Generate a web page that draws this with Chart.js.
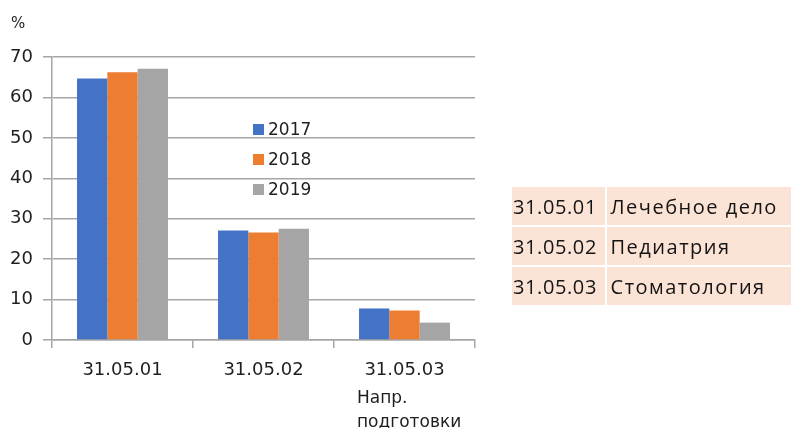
<!DOCTYPE html>
<html><head><meta charset="utf-8">
<script src="https://cdn.jsdelivr.net/npm/chart.js@4"></script>
<style>
html,body{margin:0;padding:0;background:#fff;}
#wrap{position:relative;width:791px;height:428px;overflow:hidden;}
#c{position:absolute;left:0;top:0;}
.txt{position:absolute;font-family:"DejaVu Sans",Verdana,sans-serif;color:#1f1f1f;white-space:nowrap;}
#tbl{position:absolute;left:512px;top:187px;border-collapse:collapse;font-family:"Open Sans","DejaVu Sans",sans-serif;font-size:20px;letter-spacing:0.6px;color:#141414;}
#tbl td{background:#fbe3d6;height:38px;padding:0 0 0 1px;border:2px solid #fff;border-left:none;border-top:none;}
#tbl tr:last-child td{border-bottom:none;}
#tbl td.code{width:92px;}
#tbl td.name{width:182px;border-right:none;padding-left:4px;letter-spacing:1.5px;}
</style></head>
<body><div id="wrap">
<canvas id="c" width="791" height="428"></canvas>
<div class="txt" style="left:11px;top:14px;font-size:15px;">%</div>
<div class="txt" style="left:357px;top:385px;font-size:17px;line-height:24px;">Напр.<br>подготовки</div>
<table id="tbl"></table>
</div>
<script>
const categories = ['31.05.01', '31.05.02', '31.05.03'];
const seriesLabels = ['2017', '2018', '2019'];
const values2017 = [64.7, 27.1, 7.8];
const values2018 = [66.2, 26.6, 7.3];
const values2019 = [67.1, 27.5, 4.3];
const yTicks = [0, 10, 20, 30, 40, 50, 60, 70];
const tableCodes = ['31.05.01', '31.05.02', '31.05.03'];
const tableNames = ['Лечебное дело', 'Педиатрия', 'Стоматология'];

const colors = ['#4472C4', '#ED7D31', '#A5A5A5'];

const tbl = document.getElementById('tbl');
tableCodes.forEach((code, i) => {
  const tr = document.createElement('tr');
  const a = document.createElement('td'); a.className = 'code'; a.textContent = code;
  const b = document.createElement('td'); b.className = 'name'; b.textContent = tableNames[i];
  tr.appendChild(a); tr.appendChild(b); tbl.appendChild(tr);
});

const legendPlugin = {
  id: 'customLegend',
  afterDatasetsDraw(chart) {
    const ctx = chart.ctx;
    ctx.save();
    ctx.font = '17px "DejaVu Sans", Verdana, sans-serif';
    ctx.textBaseline = 'middle';
    chart.data.datasets.forEach((ds, i) => {
      const y = 130 + i * 30;
      ctx.fillStyle = ds.backgroundColor;
      ctx.fillRect(253, y - 6, 11, 11);
      ctx.fillStyle = '#1f1f1f';
      ctx.fillText(ds.label, 268, y + 1);
    });
    ctx.restore();
  }
};

const gridColor = '#a6a6a6';
const tickFont = { family: '"DejaVu Sans", Verdana, sans-serif', size: 18 };
new Chart(document.getElementById('c'), {
  type: 'bar',
  data: {
    labels: categories,
    datasets: [
      { label: seriesLabels[0], data: values2017, backgroundColor: colors[0] },
      { label: seriesLabels[1], data: values2018, backgroundColor: colors[1] },
      { label: seriesLabels[2], data: values2019, backgroundColor: colors[2] }
    ]
  },
  options: {
    responsive: false,
    animation: false,
    devicePixelRatio: 1,
    layout: { padding: { left: 0, right: 316, top: 57, bottom: 0 } },
    datasets: { bar: { categoryPercentage: 0.645, barPercentage: 1.0 } },
    plugins: { legend: { display: false }, tooltip: { enabled: false } },
    scales: {
      x: {
        grid: { display: true, drawOnChartArea: false, drawTicks: true, tickLength: 8, color: gridColor, lineWidth: 1.5, offset: true },
        border: { display: true, color: gridColor, width: 1.5 },
        ticks: { color: '#1f1f1f', font: tickFont, padding: 12, maxRotation: 0 },
        afterFit(s) { s.height = 88; }
      },
      y: {
        min: 0, max: 70,
        afterBuildTicks(s) { s.ticks = yTicks.map(v => ({ value: v })); },
        grid: { color: gridColor, lineWidth: 1.5, drawTicks: true, tickLength: 9 },
        border: { display: true, color: gridColor, width: 1.5 },
        ticks: { color: '#1f1f1f', font: tickFont, padding: 10 },
        afterFit(s) { s.width = 52; }
      }
    }
  },
  plugins: [legendPlugin]
});
</script>
</body></html>
